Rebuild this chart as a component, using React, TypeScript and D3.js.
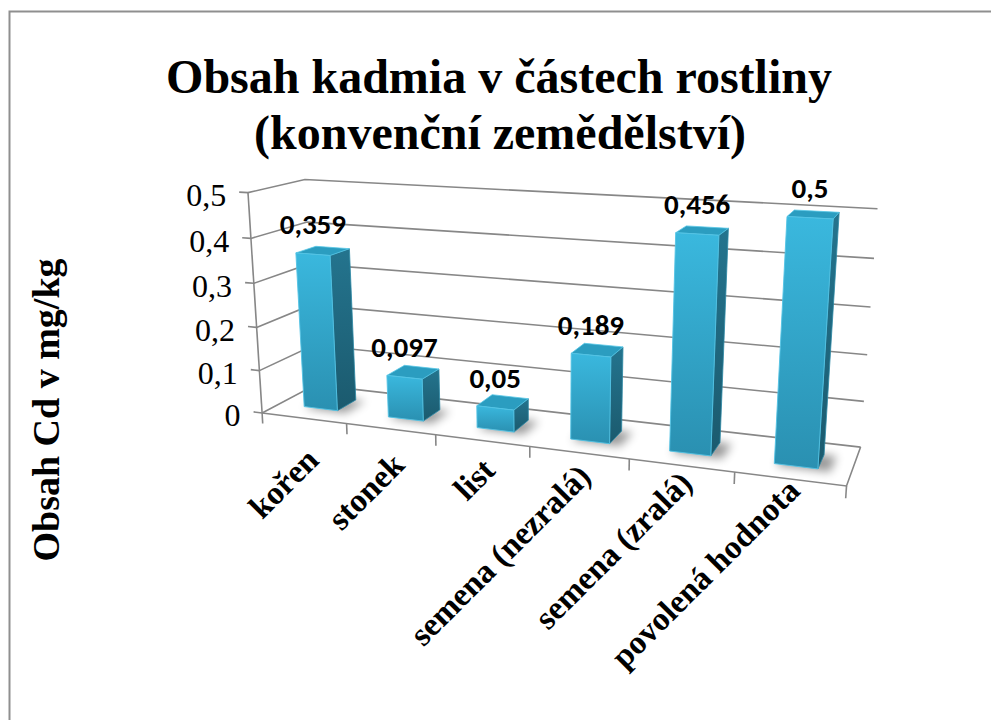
import React from 'react';
import * as d3 from 'd3';

// 3D column chart (Excel-like perspective): cadmium content in plant parts.
const categories = ['kořen', 'stonek', 'list', 'semena (nezralá)', 'semena (zralá)', 'povolená hodnota'];
const cdValues = [0.359, 0.097, 0.05, 0.189, 0.456, 0.5];
const yDomain = [0, 0.5];
const titleLines = ['Obsah kadmia v částech rostliny', '(konvenční zemědělství)'];
const yTitle = 'Obsah Cd v mg/kg';

const WIDTH = 991;
const HEIGHT = 720;

// plot box in world units (x = categories, y = value, z = depth)
const BOX_W = 465;
const BOX_H = 179;
const BOX_D = 84;

// simple pinhole camera, tuned by eye to the reference
const cam = { f: 1233, cx: 547, cy: 350, yaw: 20.2, pitch: 15.2, tx: -231.1, ty: -51.1, tz: 1000 };

function project(X: number, Y: number, Z: number): [number, number] {
  const a = (cam.yaw * Math.PI) / 180;
  const b = (cam.pitch * Math.PI) / 180;
  const x1 = X * Math.cos(a) + Z * Math.sin(a);
  const z1 = -X * Math.sin(a) + Z * Math.cos(a);
  const y2 = Y * Math.cos(b) + z1 * Math.sin(b);
  const z2 = -Y * Math.sin(b) + z1 * Math.cos(b);
  const xc = x1 + cam.tx;
  const yc = y2 + cam.ty;
  const zc = z2 + cam.tz;
  return [cam.cx + (cam.f * xc) / zc, cam.cy - (cam.f * yc) / zc];
}

const pts = (list: [number, number, number][]) =>
  list.map(([x, y, z]) => project(x, y, z).map((v) => v.toFixed(1)).join(',')).join(' ');

const czech = d3.formatLocale({ decimal: ',', thousands: '\u00a0', grouping: [3], currency: ['', ' Kč'] });
const fmt = czech.format('~g');

const GRID = '#878787';
const SERIF = '"Liberation Serif", "Times New Roman", serif';
const LABEL_FONT = 'Carlito, Lato, "Open Sans", sans-serif';

export default function App() {
  const x = d3.scaleBand<string>().domain(categories).range([0, BOX_W]).paddingInner(0.6).paddingOuter(0.3);
  const y = d3.scaleLinear().domain(yDomain).range([0, BOX_H]);
  const ticks = y.ticks(5);
  const bw = x.bandwidth();
  const z0 = (BOX_D - bw) / 2;
  const z1 = z0 + bw;
  const step = BOX_W / categories.length;

  return (
    <svg width={WIDTH} height={HEIGHT} style={{ position: 'absolute', left: 0, top: 0, background: '#fff' }}>
      <defs>
        <linearGradient id="front" x1="0" y1="0" x2="0" y2="1">
          <stop offset="0" stopColor="#3ab8de" />
          <stop offset="1" stopColor="#2a90b1" />
        </linearGradient>
        <linearGradient id="side" x1="0" y1="0" x2="0" y2="1">
          <stop offset="0" stopColor="#24748e" />
          <stop offset="1" stopColor="#1b5a6e" />
        </linearGradient>
        <filter id="soft" x="-50%" y="-50%" width="200%" height="200%">
          <feGaussianBlur stdDeviation="5" />
        </filter>
      </defs>

      {/* chart frame (only top/left visible in the crop) */}
      <path d="M9.5,730 V11.5 H1000" fill="none" stroke="#8f8f8f" strokeWidth={2} />

      {/* titles */}
      <g fontFamily={SERIF} fontWeight="bold" fontSize={48} textAnchor="middle" fill="#000">
        <text x={499} y={93}>{titleLines[0]}</text>
        <text x={500} y={149}>{titleLines[1]}</text>
      </g>
      <text
        transform="translate(59,410) rotate(-90)"
        textAnchor="middle"
        fontFamily={SERIF}
        fontWeight="bold"
        fontSize={38}
      >
        {yTitle}
      </text>

      {/* walls: back wall + side wall gridlines */}
      <g stroke={GRID} strokeWidth={1.6} fill="none">
        {ticks.map((t) => (
          <polyline key={`g${t}`} points={pts([[0, y(t), 0], [0, y(t), BOX_D], [BOX_W, y(t), BOX_D]])} />
        ))}
        {/* value axis */}
        <polyline points={pts([[0, 0, 0], [0, BOX_H, 0]])} />
        {ticks.map((t) => (
          <polyline key={`yt${t}`} points={pts([[0, y(t), 0], [-8, y(t), 0]])} />
        ))}
        {/* floor */}
        <polyline points={pts([[0, 0, 0], [BOX_W, 0, 0], [BOX_W, 0, BOX_D]])} />
        {d3.range(categories.length + 1).map((k) => (
          <polyline key={`xt${k}`} points={pts([[k * step, 0, 0], [k * step, -9, 0]])} />
        ))}
      </g>

      {/* y tick labels */}
      <g fontFamily={SERIF} fontSize={32} textAnchor="end" dominantBaseline="central">
        {ticks.map((t) => {
          const [px, py] = project(-8, y(t), 0);
          return (
            <text key={`yl${t}`} x={px - 13} y={py + 3}>
              {fmt(t)}
            </text>
          );
        })}
      </g>

      {/* bar shadows on the floor */}
      <g filter="url(#soft)" fill="#000" opacity={0.4}>
        {categories.map((c) => {
          const x0 = x(c)!;
          return (
            <polygon
              key={`s${c}`}
              points={pts([[x0 + 2, 0, z0 - 3], [x0 + bw + 9, 0, z0 - 3], [x0 + bw + 9, 0, z1], [x0 + 2, 0, z1]])}
            />
          );
        })}
      </g>

      {/* bars */}
      {categories.map((c, i) => {
        const x0 = x(c)!;
        const x1 = x0 + bw;
        const h = y(cdValues[i]);
        return (
          <g key={`b${c}`}>
            <polygon
              points={pts([[x1, 0, z0], [x1, 0, z1], [x1, h, z1], [x1, h, z0]])}
              fill="url(#side)"
              stroke="#2b88a5"
              strokeWidth={0.8}
            />
            <polygon
              points={pts([[x0, h, z0], [x1, h, z0], [x1, h, z1], [x0, h, z1]])}
              fill="#2b9dc0"
              stroke="#55c6e6"
              strokeWidth={0.8}
            />
            <polygon
              points={pts([[x0, 0, z0], [x1, 0, z0], [x1, h, z0], [x0, h, z0]])}
              fill="url(#front)"
              stroke="#52c3e4"
              strokeWidth={0.9}
            />
          </g>
        );
      })}

      {/* data labels */}
      <g fontFamily={LABEL_FONT} fontWeight="bold" fontSize={29} textAnchor="middle" fill="#000">
        {categories.map((c, i) => {
          const [px, py] = project(x(c)! + bw / 2, y(cdValues[i]), z0);
          return (
            <text key={`dl${c}`} x={px} y={py - 20}>
              {fmt(cdValues[i])}
            </text>
          );
        })}
      </g>

      {/* category labels */}
      <g fontFamily={SERIF} fontWeight="bold" fontSize={33} textAnchor="end" dominantBaseline="central">
        {categories.map((c, i) => {
          const [px, py] = project(x(c)! + bw / 2, 0, 0);
          return (
            <text key={`cl${c}`} transform={`translate(${px + 9 - i},${py + 36 - 6 * i}) rotate(-45)`}>
              {c}
            </text>
          );
        })}
      </g>
    </svg>
  );
}
